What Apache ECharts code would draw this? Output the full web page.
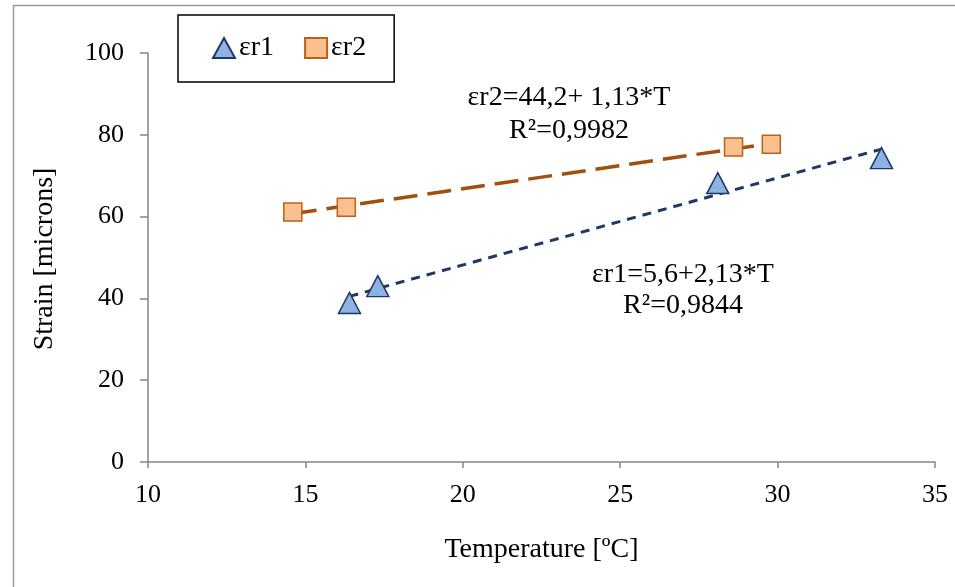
<!DOCTYPE html>
<html>
<head>
<meta charset="utf-8">
<script src="https://cdn.jsdelivr.net/npm/echarts@6/dist/echarts.min.js"></script>
<style>
  html, body { margin: 0; padding: 0; background: #fff; }
  #chart { width: 955px; height: 587px; }
</style>
</head>
<body>
<div id="chart"></div>
<script>
// valores
var seriesNames = ['εr1', 'εr2'];
var er1Points = [[16.4, 38.9], [17.3, 43.0], [28.1, 68.2], [33.3, 74.3]];
var er2Points = [[14.6, 61.1], [16.3, 62.3], [28.6, 77.0], [29.8, 77.7]];
// extremos de las lineas de tendencia
var er1Trend = [[16.4, 40.5], [33.3, 76.5]];
var er2Trend = [[14.6, 60.7], [29.8, 77.9]];
var er1Label = ['εr1=5,6+2,13*T', 'R²=0,9844'];
var er2Label = ['εr2=44,2+ 1,13*T', 'R²=0,9982'];
var xName = 'Temperature [ºC]';
var yName = 'Strain [microns]';

var serif = '"Liberation Serif", "Times New Roman", serif';

var chart = echarts.init(document.getElementById('chart'));

var option = {
    backgroundColor: '#fff',
    animation: false,
    grid: {
        left: 148,
        right: 20,
        top: 53,
        bottom: 125
    },
    legend: {
        data: seriesNames,
        left: 178,
        top: 15,
        padding: [19, 28, 20, 34],
        itemGap: 30,
        itemWidth: 22,
        itemHeight: 20,
        borderColor: '#000',
        borderWidth: 1.5,
        textStyle: {
            fontFamily: serif,
            fontSize: 28,
            color: '#000',
            padding: [0, 0, 0, -1]
        }
    },
    xAxis: {
        type: 'value',
        min: 10,
        max: 35,
        interval: 5,
        name: xName,
        nameLocation: 'middle',
        nameGap: 74,
        nameTextStyle: { fontFamily: serif, fontSize: 28, color: '#000' },
        axisLine: { show: true, lineStyle: { color: '#868686', width: 1.5 } },
        axisTick: { show: true, inside: false, length: 6, lineStyle: { color: '#868686', width: 1.5 } },
        axisLabel: { fontFamily: serif, fontSize: 26, color: '#000', margin: 20 },
        splitLine: { show: false }
    },
    yAxis: {
        type: 'value',
        min: 0,
        max: 100,
        interval: 20,
        axisLine: { show: true, lineStyle: { color: '#868686', width: 1.5 } },
        axisTick: { show: true, inside: false, length: 8, lineStyle: { color: '#868686', width: 1.5 } },
        axisLabel: { fontFamily: serif, fontSize: 26, color: '#000', margin: 24 },
        splitLine: { show: false }
    },
    series: [
        {
            name: 'trend1',
            type: 'line',
            data: er1Trend,
            symbol: 'none',
            z: 2,
            lineStyle: { color: '#1F3864', width: 3, type: [9, 7] }
        },
        {
            name: 'trend2',
            type: 'line',
            data: er2Trend,
            symbol: 'none',
            z: 2,
            lineStyle: { color: '#A0500F', width: 3.5, type: [24, 10] }
        },
        {
            name: 'εr1',
            type: 'scatter',
            data: er1Points,
            symbol: 'triangle',
            symbolSize: [22, 21],
            z: 3,
            itemStyle: { color: '#8DB3E2', borderColor: '#1F3864', borderWidth: 1.5, opacity: 1 }
        },
        {
            name: 'εr2',
            type: 'scatter',
            data: er2Points,
            symbol: 'rect',
            symbolSize: 18,
            z: 3,
            itemStyle: { color: '#FAC090', borderColor: '#B8621A', borderWidth: 1.5, opacity: 1 }
        }
    ],
    graphic: [
        {
            type: 'rect',
            left: 11,
            top: 3,
            shape: { width: 1000, height: 700 },
            style: { fill: 'none', stroke: '#9a9a9a', lineWidth: 1.5 },
            silent: true,
            z: -10
        },
        {
            type: 'text',
            x: 45,
            y: 259,
            rotation: Math.PI / 2,
            style: {
                text: yName,
                font: '28px ' + serif,
                fill: '#000',
                textAlign: 'center',
                textVerticalAlign: 'middle'
            }
        },
        {
            type: 'text',
            x: 569,
            y: 114,
            style: {
                text: er2Label.join('\n'),
                font: '28px ' + serif,
                fill: '#000',
                textAlign: 'center',
                textVerticalAlign: 'middle',
                lineHeight: 33
            }
        },
        {
            type: 'text',
            x: 683,
            y: 290,
            style: {
                text: er1Label.join('\n'),
                font: '28px ' + serif,
                fill: '#000',
                textAlign: 'center',
                textVerticalAlign: 'middle',
                lineHeight: 31
            }
        }
    ]
};

chart.setOption(option);
</script>
</body>
</html>
